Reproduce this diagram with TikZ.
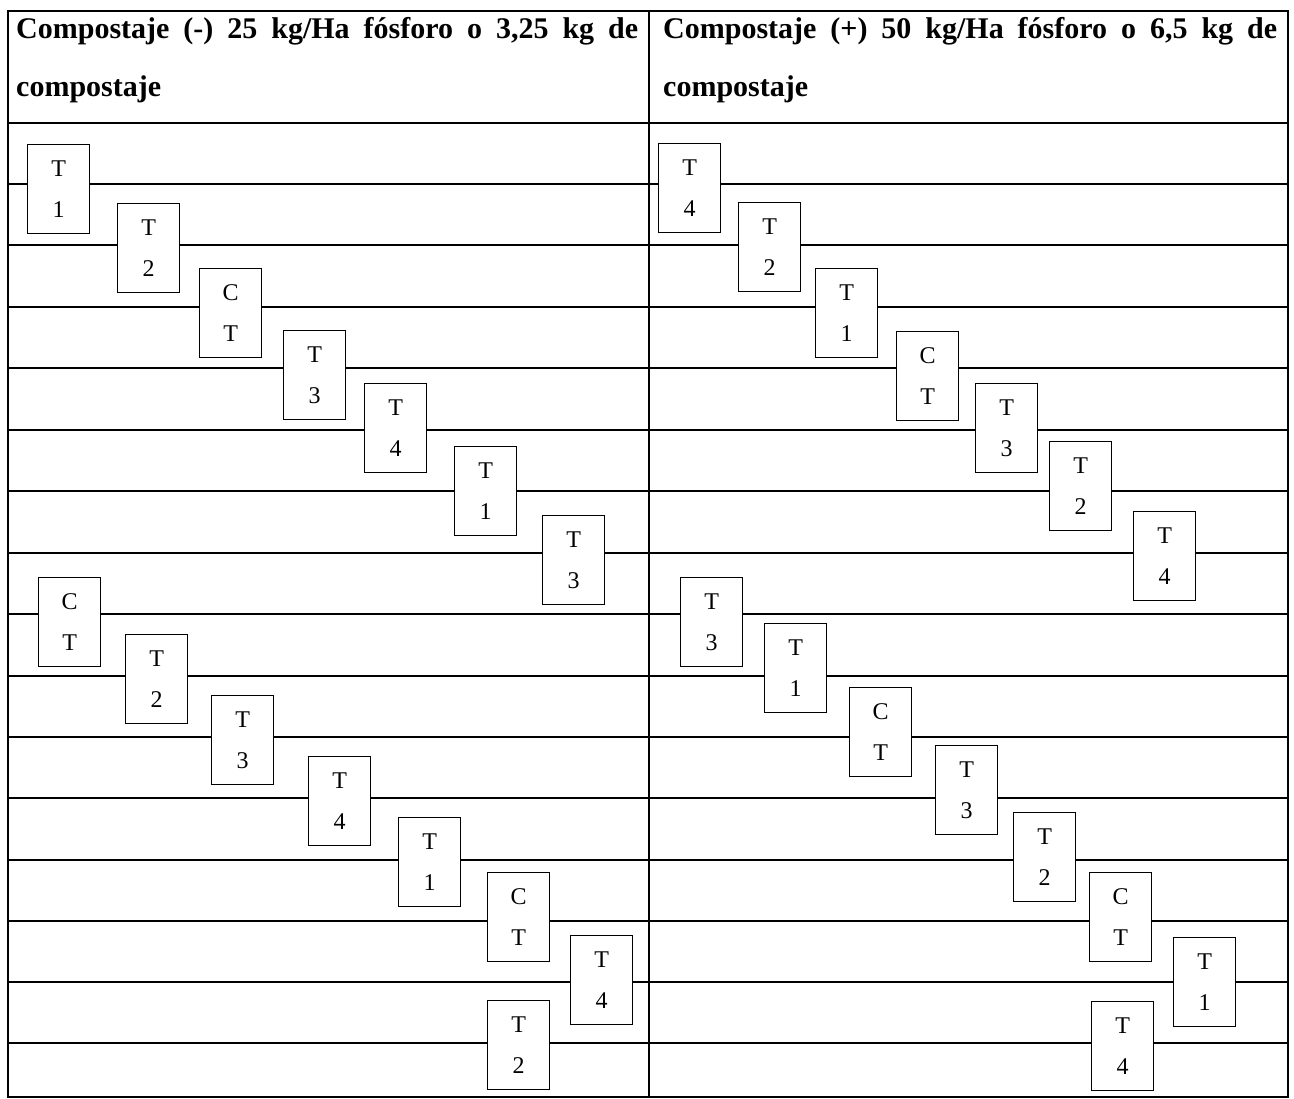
\documentclass[tikz,border=0pt]{standalone}
\usepackage{fontspec}
\setmainfont{Liberation Serif}
\begin{document}
\begin{tikzpicture}[x=1pt,y=-1pt,
  grid/.style={line width=1.5pt,black},
  cell/.style={draw=black,line width=1.3pt,fill=white,anchor=north west,
    minimum width=62pt,minimum height=89pt,inner sep=0pt,align=center,
    font=\fontsize{24}{41}\selectfont},
  head/.style={anchor=base west,inner sep=0pt,font=\bfseries\fontsize{30}{58}\selectfont}]
\useasboundingbox (0,0) rectangle (1294,1099);
% table frame
\draw[grid] (8,11) rectangle (1288,1097);
\draw[grid] (649,11) -- (649,1097);
\draw[grid] (8,123) -- (1288,123);
\foreach \y in {184,245,307,368,430,491,553,614,676,737,798,860,921,982,1043}
  \draw[grid] (8,\y) -- (1288,\y);
% headers
\node[head] (hL1) at (16,39) {\makebox[622pt][s]{Compostaje (-) 25 kg/Ha fósforo o 3,25 kg de}};
\node[head] (hL2) at (16,97) {compostaje};
\node[head] (hR1) at (663,39) {\makebox[614pt][s]{Compostaje (+) 50 kg/Ha fósforo o 6,5 kg de}};
\node[head] (hR2) at (663,97) {compostaje};
% left boxes
\node[cell] (L1) at (27,144) {T\\1};
\node[cell] (L2) at (117,203) {T\\2};
\node[cell] (L3) at (199,268) {C\\T};
\node[cell] (L4) at (283,330) {T\\3};
\node[cell] (L5) at (364,383) {T\\4};
\node[cell] (L6) at (454,446) {T\\1};
\node[cell] (L7) at (542,515) {T\\3};
\node[cell] (L8) at (38,577) {C\\T};
\node[cell] (L9) at (125,634) {T\\2};
\node[cell] (L10) at (211,695) {T\\3};
\node[cell] (L11) at (308,756) {T\\4};
\node[cell] (L12) at (398,817) {T\\1};
\node[cell] (L13) at (487,872) {C\\T};
\node[cell] (L14) at (570,935) {T\\4};
\node[cell] (L15) at (487,1000) {T\\2};
% right boxes
\node[cell] (R1) at (658,143) {T\\4};
\node[cell] (R2) at (738,202) {T\\2};
\node[cell] (R3) at (815,268) {T\\1};
\node[cell] (R4) at (896,331) {C\\T};
\node[cell] (R5) at (975,383) {T\\3};
\node[cell] (R6) at (1049,441) {T\\2};
\node[cell] (R7) at (1133,511) {T\\4};
\node[cell] (R8) at (680,577) {T\\3};
\node[cell] (R9) at (764,623) {T\\1};
\node[cell] (R10) at (849,687) {C\\T};
\node[cell] (R11) at (935,745) {T\\3};
\node[cell] (R12) at (1013,812) {T\\2};
\node[cell] (R13) at (1089,872) {C\\T};
\node[cell] (R14) at (1173,937) {T\\1};
\node[cell] (R15) at (1091,1001) {T\\4};
\end{tikzpicture}
\end{document}
